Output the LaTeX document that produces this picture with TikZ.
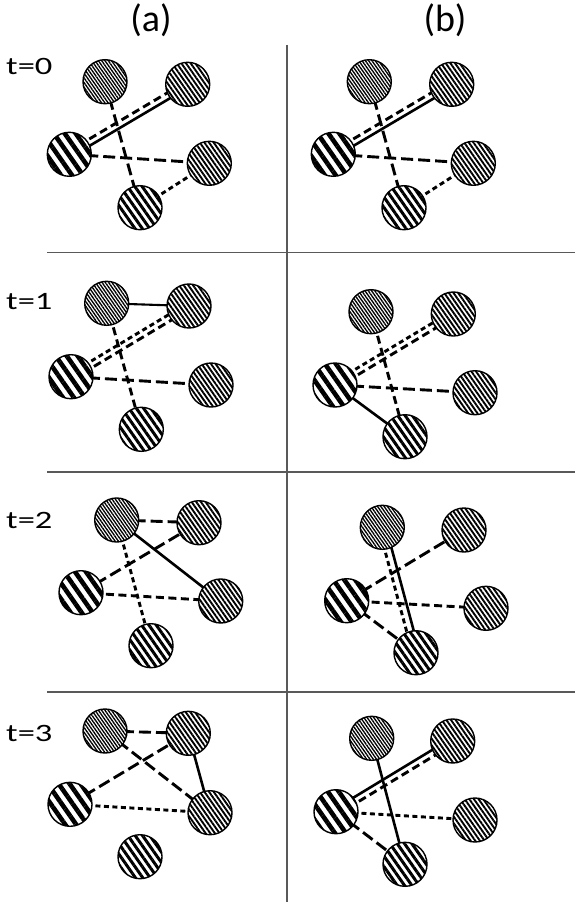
\documentclass[tikz,border=0pt]{standalone}
\usepackage{fontspec}
\setmainfont{Carlito}
\usepackage{graphicx}
\usetikzlibrary{patterns.meta,calc,backgrounds}
\tikzset{
 nd/.style={circle,draw=black,line width=1.4pt,minimum size=44pt,inner sep=0pt,preaction={fill=white}},
 pA/.style={nd,pattern={Lines[angle=-55,distance=2.7pt,line width=1.35pt]}},
 pB/.style={nd,pattern={Lines[angle=-55,distance=3.8pt,line width=1.9pt]}},
 pC/.style={nd,pattern={Lines[angle=-55,distance=9pt,line width=4.6pt]}},
 pE/.style={nd,pattern={Lines[angle=-55,distance=6pt,line width=3pt]}},
 sol/.style={line width=2.6pt},
 thinsol/.style={line width=2.1pt},
 lng/.style={line width=2.9pt,dash pattern=on 12pt off 5pt},
 med/.style={line width=2.9pt,dash pattern=on 8pt off 4.5pt},
 shrt/.style={line width=2.9pt,dash pattern=on 5pt off 3.5pt},
 sep/.style={line width=1.2pt,draw=black!65},
 hdr/.style={font=\fontsize{38}{40}\selectfont,inner sep=0pt},
 tlab/.style={font=\fontsize{25}{28}\selectfont,inner sep=0pt,anchor=base west},
}
\newcommand\fivenodes[6]{%
 \node[pA] (#1A) at (#2) {};
 \node[pB] (#1B) at (#3) {};
 \node[pC] (#1C) at (#4) {};
 \node[pB] (#1D) at (#5) {};
 \node[pE] (#1E) at (#6) {};}
\newcommand\pairedge[5]{%
 \draw[#1] ($(#3.center)!#5!90:(#4.center)$) -- ($(#4.center)!#5!-90:(#3.center)$);
 \draw[#2] ($(#3.center)!#5!-90:(#4.center)$) -- ($(#4.center)!#5!90:(#3.center)$);}
\begin{document}
\begin{tikzpicture}[x=1pt,y=-1pt]
\useasboundingbox (0,0) rectangle (575,904);
% headers
\node[hdr] (ha) at (151,20) {(a)};
\node[hdr] (hb) at (445,20) {(b)};
\node[tlab] (t0) at (6,75) {\scalebox{1.38}[1]{t=0}};
\node[tlab] (t1) at (6,309) {\scalebox{1.38}[1]{t=1}};
\node[tlab] (t2) at (6,528) {\scalebox{1.38}[1]{t=2}};
\node[tlab] (t3) at (6,741.5) {\scalebox{1.38}[1]{t=3}};
% separators
\draw[sep] (287,45) -- (287,902);
\draw[sep] (47,252.5) -- (575,252.5);
\draw[sep] (47,472) -- (575,472);
\draw[sep] (47,692) -- (575,692);
% nodes
\fivenodes{a0}{105,81.7}{187.7,84.3}{69.3,154.3}{209.3,163.3}{140,207.7}
\fivenodes{b0}{369.3,81.7}{451.7,84.3}{333.3,154.3}{473.3,163.3}{404,207.7}
\fivenodes{a1}{106.7,303.3}{189,306}{71,376.7}{211,385}{141.3,429.3}
\fivenodes{b1}{371,311.7}{453.3,314}{335,385}{475,392.7}{405,436.7}
\fivenodes{a2}{116.7,520}{199,522.7}{81,592.7}{220.7,601}{151,645.7}
\fivenodes{b2}{382.3,527.3}{464,530}{346.7,600.7}{486,608.3}{416,652.7}
\fivenodes{a3}{105,731}{188.3,733.3}{70,804.3}{210,812.7}{140,856.7}
\fivenodes{b3}{371.7,738.3}{452.7,741}{336,811.7}{475,820}{405,864.3}
\begin{pgfonlayer}{background}
% t=0
\pairedge{med}{sol}{a0C}{a0B}{3pt}
\draw[lng] (a0A.center) -- (a0E.center);
\draw[lng] (a0C.center) -- (a0D.center);
\draw[shrt] (a0E.center) -- (a0D.center);
\pairedge{med}{sol}{b0C}{b0B}{3pt}
\draw[lng] (b0A.center) -- (b0E.center);
\draw[lng] (b0C.center) -- (b0D.center);
\draw[shrt] (b0E.center) -- (b0D.center);
% t=1
\draw[thinsol] (a1A.center) -- (a1B.center);
\pairedge{shrt}{med}{a1C}{a1B}{3pt}
\draw[med] (a1A.center) -- (a1E.center);
\draw[lng] (a1C.center) -- (a1D.center);
\pairedge{shrt}{med}{b1C}{b1B}{3pt}
\draw[med] (b1A.center) -- (b1E.center);
\draw[lng] (b1C.center) -- (b1D.center);
\draw[sol] (b1C.center) -- (b1E.center);
% t=2
\draw[lng] (a2A.center) -- (a2B.center);
\draw[sol] (a2A.center) -- (a2D.center);
\draw[lng] (a2C.center) -- (a2B.center);
\draw[shrt] (a2A.center) -- (a2E.center);
\draw[med] (a2C.center) -- (a2D.center);
\pairedge{sol}{shrt}{b2A}{b2E}{3.5pt}
\draw[lng] (b2C.center) -- (b2B.center);
\draw[med] (b2C.center) -- (b2D.center);
\draw[lng] (b2C.center) -- (b2E.center);
% t=3
\draw[lng] (a3A.center) -- (a3B.center);
\draw[lng] (a3A.center) -- (a3D.center);
\draw[lng] (a3C.center) -- (a3B.center);
\draw[sol] (a3B.center) -- (a3D.center);
\draw[shrt] (a3C.center) -- (a3D.center);
\pairedge{sol}{med}{b3C}{b3B}{3pt}
\draw[sol] (b3A.center) -- (b3E.center);
\draw[shrt] (b3C.center) -- (b3D.center);
\draw[lng] (b3C.center) -- (b3E.center);
\end{pgfonlayer}
\end{tikzpicture}
\end{document}
